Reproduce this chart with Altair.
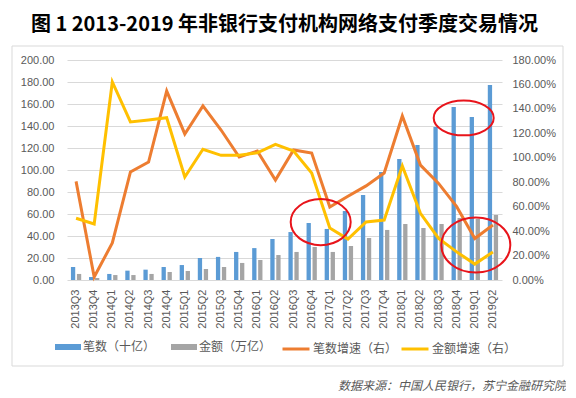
import altair as alt
import pandas as pd

quarters = ["2013Q3", "2013Q4", "2014Q1", "2014Q2", "2014Q3", "2014Q4",
            "2015Q1", "2015Q2", "2015Q3", "2015Q4", "2016Q1", "2016Q2",
            "2016Q3", "2016Q4", "2017Q1", "2017Q2", "2017Q3", "2017Q4",
            "2018Q1", "2018Q2", "2018Q3", "2018Q4", "2019Q1", "2019Q2"]
count_bn = [11.8, 2.7, 5.5, 8.5, 9.4, 11.8, 13.6, 20.0, 21.0, 25.5, 29.0, 37.3,
            43.6, 51.8, 46.4, 62.7, 77.3, 98.2, 110.0, 122.7, 139.0, 157.3, 148.2, 177.3]
amount_tn = [5.5, 1.8, 4.5, 4.5, 5.5, 7.3, 8.2, 10.0, 11.8, 15.5, 18.2, 22.7,
             25.5, 30.0, 25.5, 30.9, 38.2, 45.5, 50.9, 47.3, 50.9, 56.4, 55.5, 59.1]
count_growth = [80.7, 2.5, 30.3, 88.4, 96.5, 154.6, 119.5, 142.4, 122.7, 100.6, 105.5, 81.8,
                106.4, 103.9, 59.7, 68.5, 77.0, 87.5, 134.2, 94.0, 79.0, 60.0, 34.0, 45.0]
amount_growth = [50.5, 45.8, 162.0, 129.3, 131.0, 132.8, 84.3, 107.0, 102.0, 102.0, 104.0, 111.0,
                 105.5, 87.5, 42.5, 33.5, 47.5, 49.0, 93.3, 54.5, 34.0, 23.0, 13.0, 23.0]

bar_names = ["笔数（十亿）", "金额（万亿）"]
line_names = ["笔数增速（右）", "金额增速（右）"]
bar_colors = ["#5B9BD5", "#A5A5A5"]
line_colors = ["#ED7D31", "#FFC000"]

# annotation ellipses (quarter, value on left axis, x shift, half width, height ratio)
ell_quarter = ["2016Q4", "2018Q4", "2019Q1"]
ell_value = [52.7, 147.3, 31.8]
ell_shift = [9, 7, 1]
ell_rx = [30, 30, 34.5]
ell_ratio = [0.77, 0.58, 0.80]

title_text = "图 1 2013-2019 年非银行支付机构网络支付季度交易情况"
source_text = "数据来源：中国人民银行，苏宁金融研究院"

bar_df = pd.DataFrame({
    "quarter": quarters * 2,
    "series": [bar_names[0]] * len(quarters) + [bar_names[1]] * len(quarters),
    "value": count_bn + amount_tn,
})
line_df = pd.DataFrame({
    "quarter": quarters * 2,
    "series": [line_names[0]] * len(quarters) + [line_names[1]] * len(quarters),
    "value": count_growth + amount_growth,
})

AX_FONT = "Liberation Sans"
CJK = "Noto Sans CJK SC"
GRAY_TXT = "#595959"

x_enc = alt.X(
    "quarter:N", sort=quarters,
    scale=alt.Scale(paddingInner=0.34, paddingOuter=0.17),
    axis=alt.Axis(title=None, labelAngle=-90, labelFontSize=11, labelColor=GRAY_TXT,
                  labelFont=AX_FONT, labelPadding=9, ticks=False, domain=False),
)

bars = alt.Chart(bar_df).mark_bar(size=4.3).encode(
    x=x_enc,
    xOffset=alt.XOffset("series:N", sort=bar_names),
    y=alt.Y("value:Q", scale=alt.Scale(domain=[0, 200], nice=False),
            axis=alt.Axis(title=None, values=list(range(0, 201, 20)), format=".2f",
                          labelFontSize=11, labelColor=GRAY_TXT, labelFont=AX_FONT,
                          labelPadding=13, ticks=False, domain=False, grid=True,
                          gridColor="#d9d9d9", gridWidth=1)),
    fill=alt.Fill("series:N", sort=bar_names,
                  scale=alt.Scale(domain=bar_names, range=bar_colors),
                  legend=alt.Legend(title=None, orient="none", legendX=-12, legendY=274,
                                    direction="horizontal", columnPadding=15, labelOffset=2,
                                    symbolType="M-1,-0.23H1V0.23H-1Z", symbolSize=676,
                                    symbolStrokeWidth=0, labelFontSize=12, labelFont=CJK,
                                    labelColor=GRAY_TXT, padding=0, labelLimit=300)),
)

lines = alt.Chart(line_df).mark_line(strokeWidth=3).encode(
    x=x_enc,
    y=alt.Y("value:Q", scale=alt.Scale(domain=[0, 180], nice=False),
            axis=alt.Axis(title=None, orient="right", values=list(range(0, 181, 20)),
                          labelExpr="format(datum.value, '.2f') + '%'",
                          labelFontSize=11, labelColor=GRAY_TXT, labelFont=AX_FONT,
                          labelPadding=10, ticks=False, domain=False, grid=False)),
    stroke=alt.Stroke("series:N", sort=line_names,
                      scale=alt.Scale(domain=line_names, range=line_colors),
                      legend=alt.Legend(title=None, orient="none", legendX=214, legendY=274,
                                        direction="horizontal", columnPadding=-3, labelOffset=2,
                                        symbolType="stroke", symbolSize=729,
                                        symbolStrokeWidth=3, labelFontSize=12, labelFont=CJK,
                                        labelColor=GRAY_TXT, padding=0, labelLimit=300)),
)

k = 0.5523
layers = [bars, lines]
for q, v, sh, rx, r in zip(ell_quarter, ell_value, ell_shift, ell_rx, ell_ratio):
    path = (f"M-1,0 C-1,{-k*r:.4f} {-k:.4f},{-r:.4f} 0,{-r:.4f} "
            f"C{k:.4f},{-r:.4f} 1,{-k*r:.4f} 1,0 "
            f"C1,{k*r:.4f} {k:.4f},{r:.4f} 0,{r:.4f} "
            f"C{-k:.4f},{r:.4f} -1,{k*r:.4f} -1,0 Z")
    edf = pd.DataFrame({"quarter": [q], "value": [v]})
    ell = alt.Chart(edf).mark_point(shape=path, size=(2 * rx) ** 2, filled=False,
                                    stroke="#E8141B", strokeWidth=2, opacity=1,
                                    xOffset=sh).encode(
        x=x_enc,
        y=alt.Y("value:Q", scale=alt.Scale(domain=[0, 200], nice=False), axis=None),
    )
    layers.append(ell)

one = pd.DataFrame({"a": [0]})
frame = alt.Chart(one).mark_rect(fill="transparent", stroke="#d9d9d9", strokeWidth=1).encode(
    x=alt.value(-55), x2=alt.value(496), y=alt.value(-14), y2=alt.value(306))
source = alt.Chart(one).mark_text(align="right", baseline="middle", fontStyle="italic",
                                  fontSize=12, font=CJK, color=GRAY_TXT).encode(
    x=alt.value(499), y=alt.value(326), text=alt.value(source_text))

chart = alt.layer(frame, *layers, source).resolve_scale(
    y="independent", fill="independent", stroke="independent"
).properties(
    width=435, height=220,
    padding={"left": 59, "top": 52, "right": 64, "bottom": 116},
    autosize=alt.AutoSizeParams(type="none"),
    background="white",
    title=alt.Title(title_text, fontSize=20, font=CJK, fontWeight="bold", color="black",
                    anchor="middle", offset=11),
).configure_view(stroke=None)

chart.save("out.html", embed_options={"renderer": "svg", "actions": False})
